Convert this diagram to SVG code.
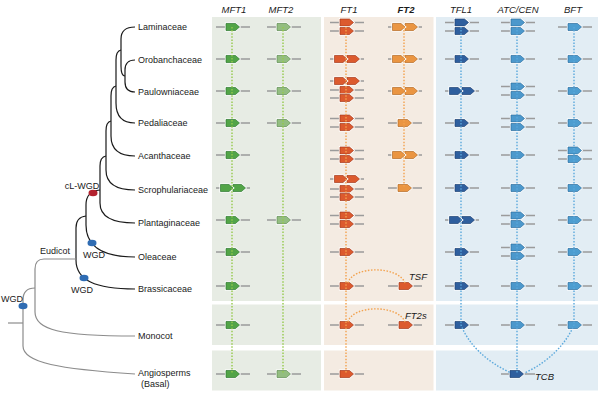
<svg xmlns="http://www.w3.org/2000/svg" xmlns:xlink="http://www.w3.org/1999/xlink" width="600" height="393" viewBox="0 0 600 393">
<style>
text{font-family:"Liberation Sans",Arial,sans-serif;font-size:9px;fill:#1a1a1a;stroke:none}
.hdr{font-style:italic;font-size:9.5px;text-anchor:middle}
.it{font-style:italic;font-size:9.5px}
.c{text-anchor:middle}
.tb{fill:none;stroke:#1a1a1a;stroke-width:1.2}
.tg{fill:none;stroke:#8c8c8c;stroke-width:1.2}
.gl{fill:none;stroke:#9b9b9b;stroke-width:1.3}
.dg{fill:none;stroke:#95c94a;stroke-width:1.4;stroke-dasharray:1.5 1.6}
.do{fill:none;stroke:#f3a24e;stroke-width:1.4;stroke-dasharray:1.5 1.6}
.db{fill:none;stroke:#5aa8dc;stroke-width:1.4;stroke-dasharray:1.5 1.6}
.mft1{fill:#52a447;stroke:#2e7a30}
.mft2{fill:#93bd80;stroke:#5f8c53}
.ft1{fill:#dc5a2e;stroke:#a5391b}
.ft2{fill:#ea9542;stroke:#b46a24}
.tfl1{fill:#2f5f9e;stroke:#1d4274}
.atc{fill:#4c98cc;stroke:#2d6f9f}
.bft{fill:#4d9dd0;stroke:#2d6f9f}
</style>
<defs>
<g id="g"><path d="M0,-3.5H9.5L13.5,0L9.5,3.5H0Z" fill="#fff" stroke="#fff" stroke-width="2.2"/><path d="M0,-3.5H9.5L13.5,0L9.5,3.5H0Z" stroke-width="0.7"/></g>
<g id="t"><path d="M0,-3.5H8.5L12.5,0L8.5,3.5H0Z" fill="#fff" stroke="#fff" stroke-width="2.2"/><path d="M0,-3.5H8.5L12.5,0L8.5,3.5H0Z" stroke-width="0.7"/></g>
</defs>
<rect width="600" height="393" fill="#fff"/>
<g id="panels">
<rect x="212" y="17" width="109" height="284" fill="#e7ece4"/>
<rect x="212" y="304.5" width="109" height="40.5" fill="#e7ece4"/>
<rect x="212" y="350.5" width="109" height="40" fill="#e7ece4"/>
<rect x="324" y="17" width="109.5" height="284" fill="#f4ebe2"/>
<rect x="324" y="304.5" width="109.5" height="40.5" fill="#f4ebe2"/>
<rect x="324" y="350.5" width="109.5" height="40" fill="#f4ebe2"/>
<rect x="436" y="17" width="162" height="284" fill="#e2edf4"/>
<rect x="436" y="304.5" width="162" height="40.5" fill="#e2edf4"/>
<rect x="436" y="350.5" width="162" height="40" fill="#e2edf4"/>
</g>
<g id="headers">
<text class="hdr" x="234" y="12.7">MFT1</text>
<text class="hdr" x="281" y="12.7">MFT2</text>
<text class="hdr" x="349" y="12.7">FT1</text>
<text class="hdr" x="406" y="12.7" font-weight="bold">FT2</text>
<text class="hdr" x="461" y="12.7">TFL1</text>
<text class="hdr" x="518" y="12.7">ATC/CEN</text>
<text class="hdr" x="573" y="12.7">BFT</text>
</g>
<g id="tree">
<path class="tb" d="M135,60 Q125,60 125,70 L125,82 Q125,92 135,92"/>
<path class="tb" d="M135,27 Q121,27 121,39 L121,66 Q121,76 125,76"/>
<path class="tb" d="M121,50 Q116,51 116,60 L116,103 Q116,123 135,123"/>
<path class="tb" d="M116,86 Q111,87 111,96 L111,136 Q111,156 135,156"/>
<path class="tb" d="M111,121 Q106,122 106,131 L106,170 Q106,190 135,190"/>
<path class="tb" d="M106,156 Q100,157 100,166 L100,203 Q100,223 135,223"/>
<path class="tb" d="M100,190 Q86,191 86,205 L86,225 C86,245 100,257 135,257"/>
<path class="tb" d="M86,216 Q76,217 76,228 L76,260 C76,280 95,289 135,289"/>
<path class="tg" d="M76,259 L44,259 Q35,259 35,269 L35,312 C35,330 60,336 135,336"/>
<path class="tg" d="M35,288 Q23,288 23,300 L23,346 C23,363 60,369 135,374"/>
<path class="tg" d="M8,323 L23,323"/>
<ellipse cx="93" cy="193" rx="4.5" ry="3.2" fill="#b3222f"/>
<ellipse cx="92" cy="243" rx="4.5" ry="3.2" fill="#2f6cb3"/>
<ellipse cx="84" cy="278" rx="4.5" ry="3.2" fill="#2f6cb3"/>
<ellipse cx="23" cy="306" rx="4.5" ry="3.2" fill="#2f6cb3"/>
<text class="c" x="82" y="189">cL-WGD</text>
<text class="c" x="94" y="257.5">WGD</text>
<text class="c" x="82" y="293">WGD</text>
<text class="c" x="12" y="301.5">WGD</text>
<text class="c" x="55" y="253.5">Eudicot</text>
</g>
<g id="taxa">
<text x="138" y="30.2">Laminaceae</text>
<text x="138" y="63.2">Orobanchaceae</text>
<text x="138" y="95.2">Paulowniaceae</text>
<text x="138" y="126.2">Pedaliaceae</text>
<text x="138" y="159.2">Acanthaceae</text>
<text x="138" y="193.2">Scrophulariaceae</text>
<text x="138" y="226.2">Plantaginaceae</text>
<text x="138" y="260.2">Oleaceae</text>
<text x="138" y="292.2">Brassicaceae</text>
<text x="138" y="339.2">Monocot</text>
<text x="138" y="376.2">Angiosperms</text>
<text x="141" y="386.7">(Basal)</text>
</g>
<g id="gene-lines">
<path class="gl" d="M216,27h34M216,59h34M216,91h34M216,123h34M216,155h34M216,188h34M216,220h34M216,252h34M216,286h34M216,325h34M216,374h34"/>
<path class="gl" d="M267,27h34M267,59h34M267,91h34M267,123h34M267,220h34M267,374h34"/>
<path class="gl" d="M330,22.5h34M330,31h34M330,59h34M330,81h34M330,90h34M330,98h34M330,118.5h34M330,127h34M330,150.5h34M330,159h34M330,179h34M330,189h34M330,197h34M330,215.5h34M330,224h34M330,252h34M330,286h34M330,325h34M330,374h34"/>
<path class="gl" d="M388,27h34M388,59h34M388,91h34M388,123h34M388,155h34M388,188h34M388,286h34M388,325h34"/>
<path class="gl" d="M445,22.5h34M445,31h34M445,59h34M445,91h34M445,123h34M445,155h34M445,188h34M445,220h34M445,252h34M445,286h34M445,325h34"/>
<path class="gl" d="M501,22.5h34M501,31h34M501,59h34M501,86.5h34M501,95h34M501,118.5h34M501,127h34M501,155h34M501,188h34M501,215.5h34M501,224h34M501,247.5h34M501,256h34M501,286h34M501,325h34M501,374h34"/>
<path class="gl" d="M558,27h34M558,59h34M558,91h34M558,123h34M558,150.5h34M558,159h34M558,188h34M558,220h34M558,252h34M558,286h34M558,325h34"/>
</g>
<g id="MFT1" class="mft1">
<use href="#g" x="226" y="27"/><use href="#g" x="226" y="59"/><use href="#g" x="226" y="91"/><use href="#g" x="226" y="123"/><use href="#g" x="226" y="155"/>
<use href="#t" x="233" y="188"/><use href="#t" x="220.5" y="188"/>
<use href="#g" x="226" y="220"/><use href="#g" x="226" y="252"/><use href="#g" x="226" y="286"/><use href="#g" x="226" y="325"/><use href="#g" x="226" y="374"/>
</g>
<g id="MFT2" class="mft2">
<use href="#g" x="277" y="27"/><use href="#g" x="277" y="59"/><use href="#g" x="277" y="91"/><use href="#g" x="277" y="123"/><use href="#g" x="277" y="220"/><use href="#g" x="277" y="374"/>
</g>
<g id="FT1" class="ft1">
<use href="#g" x="340" y="22.5"/><use href="#g" x="340" y="31"/>
<use href="#t" x="347" y="59"/><use href="#t" x="334.5" y="59"/>
<use href="#t" x="347" y="81"/><use href="#t" x="334.5" y="81"/><use href="#g" x="340" y="90"/><use href="#g" x="340" y="98"/>
<use href="#g" x="340" y="118.5"/><use href="#g" x="340" y="127"/>
<use href="#g" x="340" y="150.5"/><use href="#g" x="340" y="159"/>
<use href="#t" x="347" y="179"/><use href="#t" x="334.5" y="179"/><use href="#g" x="340" y="189"/><use href="#g" x="340" y="197"/>
<use href="#g" x="340" y="215.5"/><use href="#g" x="340" y="224"/>
<use href="#g" x="340" y="252"/><use href="#g" x="340" y="286"/><use href="#g" x="340" y="325"/><use href="#g" x="340" y="374"/>
</g>
<g id="FT2" class="ft2">
<use href="#t" x="405" y="27"/><use href="#t" x="392.5" y="27"/>
<use href="#t" x="405" y="59"/><use href="#t" x="392.5" y="59"/>
<use href="#t" x="405" y="91"/><use href="#t" x="392.5" y="91"/>
<use href="#g" x="398" y="123"/>
<use href="#t" x="405" y="155"/><use href="#t" x="392.5" y="155"/>
<use href="#g" x="398" y="188"/>
</g>
<g id="TSF"><use class="ft1" href="#g" x="399" y="286"/><text class="it" x="409" y="279.5">TSF</text></g>
<g id="FT2s"><use class="ft1" href="#g" x="399" y="325"/><text class="it" x="405" y="318.5">FT2s</text></g>
<g id="TFL1" class="tfl1">
<use href="#g" x="455" y="22.5"/><use href="#g" x="455" y="31"/><use href="#g" x="455" y="59"/>
<use href="#t" x="462" y="91"/><use href="#t" x="449.5" y="91"/>
<use href="#g" x="455" y="123"/><use href="#g" x="455" y="155"/><use href="#g" x="455" y="188"/>
<use href="#t" x="462" y="220"/><use href="#t" x="449.5" y="220"/>
<use href="#g" x="455" y="252"/><use href="#g" x="455" y="286"/><use href="#g" x="455" y="325"/>
</g>
<g id="ATC-CEN" class="atc">
<use href="#g" x="511" y="22.5"/><use href="#g" x="511" y="31"/><use href="#g" x="511" y="59"/>
<use href="#g" x="511" y="86.5"/><use href="#g" x="511" y="95"/>
<use href="#g" x="511" y="118.5"/><use href="#g" x="511" y="127"/>
<use href="#g" x="511" y="155"/><use href="#g" x="511" y="188"/>
<use href="#g" x="511" y="215.5"/><use href="#g" x="511" y="224"/>
<use href="#g" x="511" y="247.5"/><use href="#g" x="511" y="256"/>
<use href="#g" x="511" y="286"/><use href="#g" x="511" y="325"/>
</g>
<g id="TCB"><use class="tfl1" href="#g" x="510" y="374"/><text class="it" x="535" y="379.5">TCB</text></g>
<g id="BFT" class="bft">
<use href="#g" x="568" y="27"/><use href="#g" x="568" y="59"/><use href="#g" x="568" y="91"/><use href="#g" x="568" y="123"/>
<use href="#g" x="568" y="150.5"/><use href="#g" x="568" y="159"/>
<use href="#g" x="568" y="188"/><use href="#g" x="568" y="220"/><use href="#g" x="568" y="252"/><use href="#g" x="568" y="286"/><use href="#g" x="568" y="325"/>
</g>
<g id="connectors">
<path class="dg" d="M232,27V374M283,27V374"/>
<path class="do" d="M346,27V374M404,27V188"/>
<path class="do" d="M348,283 C352,266 398,265 405,283"/>
<path class="do" d="M348,322 C352,305 398,304 405,322"/>
<path class="db" d="M461,27V325 Q473,355 511,373"/>
<path class="db" d="M517,27V374"/>
<path class="db" d="M574,27V325 Q561,355 525,373"/>
</g>
</svg>
